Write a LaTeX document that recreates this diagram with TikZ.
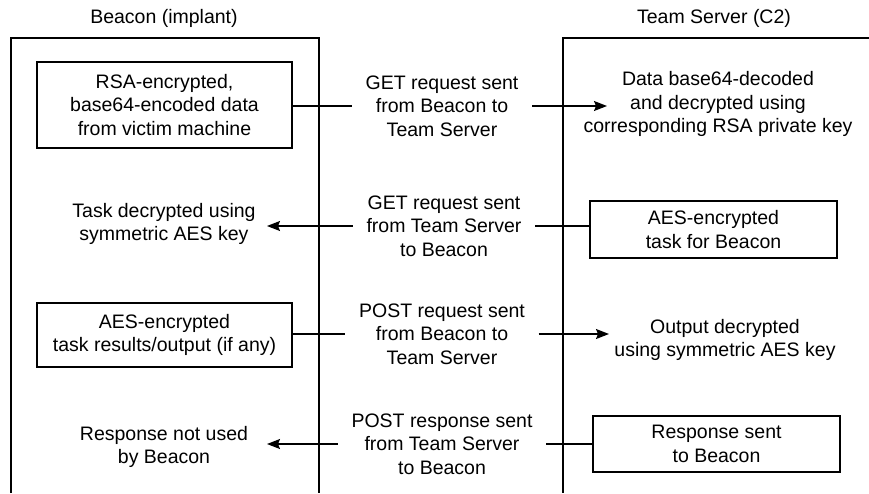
\documentclass[tikz,border=0pt]{standalone}
\usepackage{fontspec}
\setmainfont{Liberation Sans}
\usetikzlibrary{arrows.meta}
\begin{document}
\begin{tikzpicture}[x=1pt,y=-1pt, line width=1.3pt,
  every node/.style={font=\fontsize{19.5}{23.5}\selectfont, align=center, inner sep=0pt},
  box/.style={draw, minimum width=255pt},
  lab/.style={inner xsep=13pt, inner ysep=2pt},
  arr/.style={-{Stealth[length=13pt,width=10pt,inset=2pt]}}]
\useasboundingbox (0,0) rectangle (869,493);
% titles
\node (tb) at (164,18) {Beacon (implant)};
\node (tt) at (714,18) {Team Server (C2)};
% frames
\draw (11,493) -- (11,38) -- (319,38) -- (319,493);
\draw (869,38) -- (563,38) -- (563,493);
% row 1
\node[box, minimum height=86pt] (b1) at (164.5,105) {RSA-encrypted,\\base64-encoded data\\from victim machine};
\node[lab] (l1) at (442,106) {GET request sent\\from Beacon to\\Team Server};
\node (s1) at (718,104) {Data base64-decoded\\and decrypted using\\corresponding RSA private key};
\coordinate (e1) at (607,106);
\draw (b1.east |- l1.west) -- (l1.west);
\draw[arr] (l1.east) -- (e1);
% row 2
\node (t2) at (164,224) {Task decrypted using\\symmetric AES key};
\node[lab] (l2) at (444,226) {GET request sent\\from Team Server\\to Beacon};
\node[box, minimum width=247pt, minimum height=57pt] (r2) at (713.5,229.5) {AES-encrypted\\task for Beacon};
\coordinate (e2) at (267,226);
\draw (r2.west |- l2.east) -- (l2.east);
\draw[arr] (l2.west) -- (e2);
% row 3
\node[box, minimum height=64pt] (b3) at (164.5,335) {AES-encrypted\\task results/output (if any)};
\node[lab] (l3) at (442,334) {POST request sent\\from Beacon to\\Team Server};
\node (s3) at (725,340) {Output decrypted\\using symmetric AES key};
\coordinate (e3) at (609,334);
\draw (b3.east |- l3.west) -- (l3.west);
\draw[arr] (l3.east) -- (e3);
% row 4
\node (t4) at (164,447) {Response not used\\by Beacon};
\node[lab] (l4) at (442,444) {POST response sent\\from Team Server\\to Beacon};
\node[box, minimum width=247pt, minimum height=56pt] (r4) at (716.5,444) {Response sent\\to Beacon};
\coordinate (e4) at (267,444);
\draw (r4.west |- l4.east) -- (l4.east);
\draw[arr] (l4.west) -- (e4);
\end{tikzpicture}
\end{document}
